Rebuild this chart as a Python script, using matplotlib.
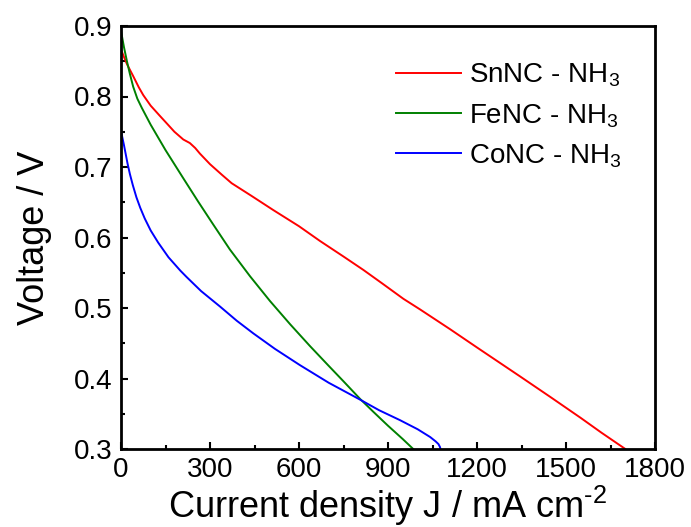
import matplotlib
matplotlib.use('Agg')
import matplotlib.pyplot as plt
from matplotlib.ticker import MultipleLocator

plt.rcParams['font.family'] = ['Liberation Sans', 'DejaVu Sans']
plt.rcParams['mathtext.fontset'] = 'custom'
plt.rcParams['mathtext.rm'] = 'Liberation Sans'

# SnNC - NH3
sn_j = [0, 10, 20, 41, 60, 75, 100, 130, 154, 180, 210, 232, 250, 266, 300, 340, 373, 440, 513, 600,
        671, 750, 817, 880, 952, 1008, 1109, 1200, 1345, 1450, 1550, 1620, 1700]
sn_v = [0.867, 0.856, 0.846, 0.829, 0.813, 0.802, 0.787, 0.773, 0.762, 0.750, 0.739, 0.734, 0.727,
        0.719, 0.704, 0.689, 0.677, 0.659, 0.639, 0.616, 0.595, 0.573, 0.554, 0.535, 0.513, 0.498,
        0.470, 0.444, 0.403, 0.373, 0.344, 0.323, 0.300]

# FeNC - NH3
fe_j = [0, 10, 20, 30, 41, 55, 70, 85, 100, 125, 150, 180, 210, 260, 310, 367, 435, 502, 570, 637,
        700, 750, 806, 850, 900, 950, 985]
fe_v = [0.893, 0.870, 0.850, 0.832, 0.814, 0.797, 0.784, 0.772, 0.760, 0.742, 0.724, 0.704, 0.684,
        0.651, 0.619, 0.583, 0.545, 0.510, 0.477, 0.446, 0.418, 0.396, 0.371, 0.353, 0.333, 0.314, 0.300]

# CoNC - NH3
co_j = [0, 5, 10, 16, 22, 30, 40, 52, 65, 80, 100, 125, 160, 200, 221, 270, 334, 390, 446, 519, 603,
        700, 806, 870, 940, 1000, 1042, 1060, 1070, 1075, 1077]
co_v = [0.751, 0.741, 0.731, 0.718, 0.705, 0.690, 0.674, 0.657, 0.642, 0.627, 0.610, 0.593, 0.572,
        0.553, 0.544, 0.524, 0.502, 0.482, 0.464, 0.442, 0.419, 0.394, 0.370, 0.355, 0.341, 0.328,
        0.317, 0.311, 0.307, 0.303, 0.300]

fig = plt.figure(figsize=(6.91, 5.27), dpi=100)
ax = fig.add_axes([121/691, 1-449/527, (655-121)/691, (449-26)/527])

ax.plot(sn_j, sn_v, color='#ff0000', lw=1.4, label='SnNC - NH$_3$')
ax.plot(fe_j, fe_v, color='#008000', lw=1.4, label='FeNC - NH$_3$')
ax.plot(co_j, co_v, color='#0000ff', lw=1.4, label='CoNC - NH$_3$')

ax.set_xlim(0, 1800)
ax.set_ylim(0.3, 0.9)
ax.xaxis.set_major_locator(MultipleLocator(300))
ax.xaxis.set_minor_locator(MultipleLocator(150))
ax.yaxis.set_major_locator(MultipleLocator(0.1))
ax.yaxis.set_minor_locator(MultipleLocator(0.05))
ax.yaxis.set_major_formatter(plt.FuncFormatter(lambda v, p: f'{v:.1f}'))

for s in ax.spines.values():
    s.set_linewidth(2)
ax.tick_params(which='both', direction='in', top=False, right=False, width=1.5)
ax.tick_params(which='major', length=5, labelsize=20, pad=6)
ax.tick_params(which='minor', length=3)

ax.set_xlabel(r'Current density J / mA cm$^{\text{-2}}$', fontsize=26, labelpad=0)
ax.set_ylabel('Voltage / V', fontsize=26, labelpad=16)

ax.legend(loc='upper right', bbox_to_anchor=(0.985, 0.975), frameon=False, fontsize=20,
          handlelength=2.35, handletextpad=0.3, labelspacing=0.45)

fig.savefig('out.png', dpi=100)
